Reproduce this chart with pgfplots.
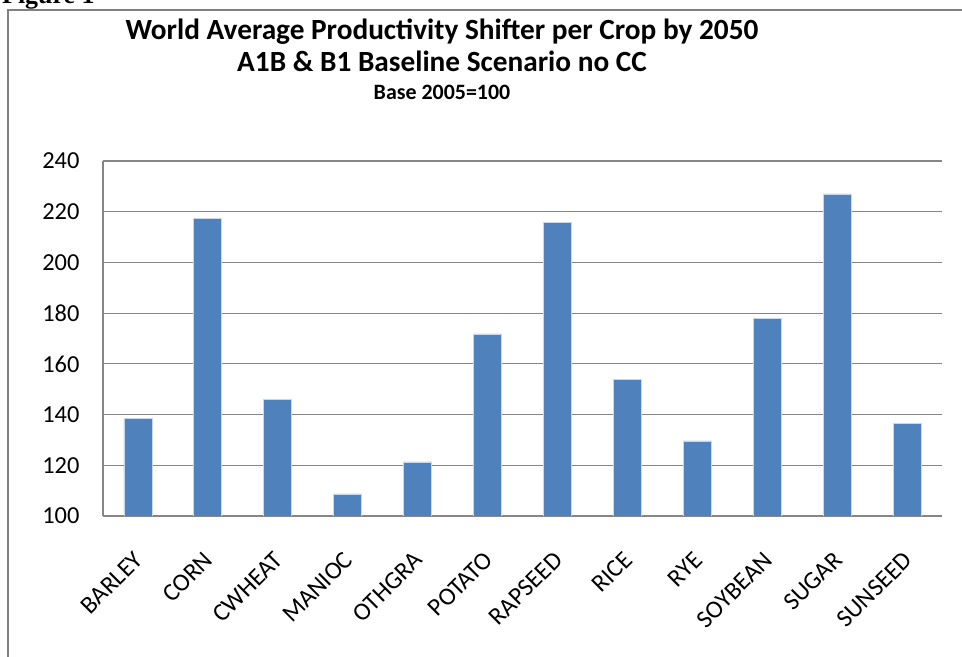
\documentclass[border=0pt]{standalone}
\usepackage{pgfplots}
\pgfplotsset{compat=1.18}
\usepackage{fontspec}
\setmainfont{Carlito}
\newfontfamily\figfont{Liberation Serif}
\definecolor{barblue}{RGB}{79,129,189}
\definecolor{baredge}{RGB}{200,215,235}
\definecolor{gridgray}{RGB}{134,134,134}
\definecolor{framegray}{RGB}{128,128,128}
\begin{document}
\begin{tikzpicture}
\useasboundingbox (0bp,0bp) rectangle (962bp,657bp);
\clip (0bp,0bp) rectangle (962bp,657bp);
\draw[framegray, line width=2bp] (8bp,-10bp) -- (8bp,647bp) -- (975bp,647bp);
\node[anchor=base west, inner sep=0pt, font=\figfont\bfseries\fontsize{26}{30}\selectfont] at (2bp,653bp) {Figure 1};
\node[anchor=base, inner sep=0pt, font=\bfseries\fontsize{29.4}{32}\selectfont] at (442bp,617bp) {World Average Productivity Shifter per Crop by 2050};
\node[anchor=base, inner sep=0pt, font=\bfseries\fontsize{29.4}{32}\selectfont] at (442bp,585bp) {A1B \& B1 Baseline Scenario no CC};
\node[anchor=base, inner sep=0pt, font=\bfseries\fontsize{22}{24}\selectfont] at (442bp,557bp) {Base 2005=100};
\begin{axis}[
  at={(103bp,141bp)}, anchor=south west,
  scale only axis, width=839bp, height=355bp,
  xmin=-0.5, xmax=11.5, ymin=100, ymax=240,
  ytick={100,120,...,240},
  xtick={0,...,11},
  xticklabels={BARLEY,CORN,CWHEAT,MANIOC,OTHGRA,POTATO,RAPSEED,RICE,RYE,SOYBEAN,SUGAR,SUNSEED},
  axis x line=bottom, axis y line=left,
  axis line style={-, gridgray, line width=1.2bp},
  major tick length=0pt,
  ymajorgrids, grid style={gridgray, line width=1.2bp},
  /pgf/number format/assume math mode=true,
  yticklabel style={font=\fontsize{24.5}{28}\selectfont, anchor=east, xshift=-20bp},
  xticklabel style={font=\fontsize{25}{28}\selectfont, xshift=-5bp, yshift=-34bp, rotate=45, anchor=north east, inner sep=0pt},
  ybar, bar width=28bp,
]
\addplot[fill=barblue, draw=baredge, line width=0.8bp] coordinates {
(0,138.5) (1,217.4) (2,146) (3,108.7) (4,121.3) (5,171.8) (6,215.9) (7,154) (8,129.6) (9,178) (10,227) (11,136.5)
};
\end{axis}
\end{tikzpicture}
\end{document}
